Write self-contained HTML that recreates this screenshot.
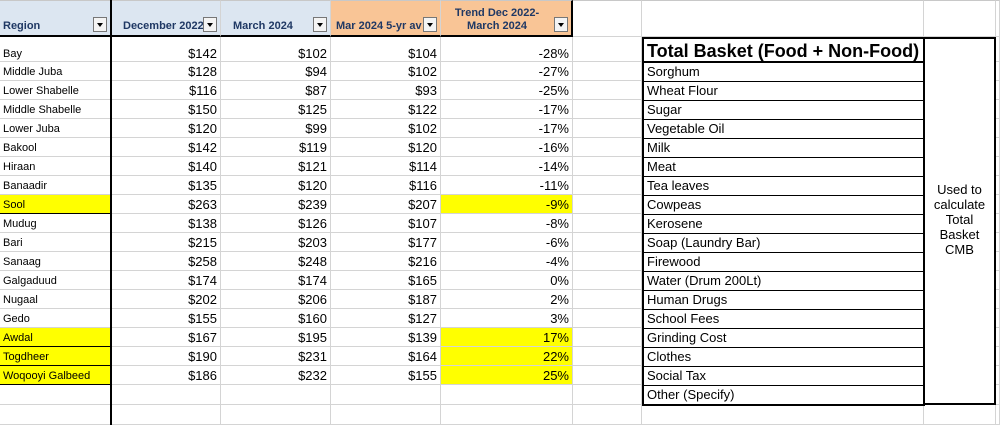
<!DOCTYPE html>
<html><head><meta charset="utf-8"><style>
body{margin:0;width:1000px;height:425px;overflow:hidden;background:#fff;font-family:"Liberation Sans",Arial,sans-serif;position:relative}
.c{position:absolute;box-sizing:border-box;border-right:1px solid #d4d4d4;border-bottom:1px solid #d4d4d4;white-space:nowrap;overflow:hidden}
.h{font-weight:bold;font-size:11px;color:#1f3864}
.dd{position:absolute;width:14px;height:15px;border:1px solid #777;background:#f4f4f4;box-sizing:border-box;bottom:3px;right:3px}
.dd:after{content:"";position:absolute;left:3px;top:5px;border-left:3.5px solid transparent;border-right:3.5px solid transparent;border-top:4px solid #000}
.rt{position:absolute;box-sizing:border-box;font-size:13px;padding-left:3px;border:1px solid #000;border-top:none;line-height:18px;white-space:nowrap}
</style></head><body>
<div id="grid"></div>
<script>
const regions=["Bay","Middle Juba","Lower Shabelle","Middle Shabelle","Lower Juba","Bakool","Hiraan","Banaadir","Sool","Mudug","Bari","Sanaag","Galgaduud","Nugaal","Gedo","Awdal","Togdheer","Woqooyi Galbeed"];
const dec22=[142,128,116,150,120,142,140,135,263,138,215,258,174,202,155,167,190,186];
const mar24=[102,94,87,125,99,119,121,120,239,126,203,248,174,206,160,195,231,232];
const avg5=[104,102,93,122,102,120,114,116,207,107,177,216,165,187,127,139,164,155];
const trend=[-28,-27,-25,-17,-17,-16,-14,-11,-9,-8,-6,-4,0,2,3,17,22,25];
const highlight=["Sool","Awdal","Togdheer","Woqooyi Galbeed"];
const items=["Sorghum","Wheat  Flour","Sugar","Vegetable Oil","Milk","Meat","Tea leaves","Cowpeas","Kerosene","Soap (Laundry Bar)","Firewood","Water (Drum 200Lt)","Human Drugs","School Fees","Grinding Cost","Clothes","Social Tax","Other (Specify)"];
const g=document.getElementById('grid');
const xs=[0,111,221,331,441,573,642,924,996,1000];
function rowY(i){return i===0?37:62+(i-1)*19;}
function rowH(i){return i===0?25:19;}
function cell(x,y,w,h,txt,name,st){const d=document.createElement('div');d.className='c';d.style.cssText+=`left:${x}px;top:${y}px;width:${w}px;height:${h}px;`+(st||'');if(txt!==null)d.textContent=txt;


g.appendChild(d);return d;}
const hdr=["Region","December 2022","March 2024","Mar 2024 5-yr av","Trend Dec 2022-\nMarch 2024"];
const hn=["region-header","dec-2022-header","mar-2024-header","five-yr-avg-header","trend-header"];
for(let j=0;j<5;j++){const bg=j<3?'#dce6f1':'#f9c596';
const d=cell(xs[j],0,xs[j+1]-xs[j],37,null,hn[j],`background:${bg};border-bottom:2px solid #000;border-top:1px solid #c8c8c8;`+(j==4?'border-right:2px solid #000;':''));
const s=document.createElement('div');s.className='h';
s.style.cssText=j==4?'position:absolute;left:0;right:18px;top:6px;text-align:center;line-height:13px;white-space:pre':`position:absolute;left:${j==0?3:j==3?5:12}px;bottom:3px`;
s.textContent=hdr[j];


d.appendChild(s);
const b=document.createElement('div');b.className='dd';


d.appendChild(b);}
for(let j=5;j<9;j++)cell(xs[j],0,xs[j+1]-xs[j],37,'','empty-cell','border-top:1px solid #c8c8c8;');
for(let i=0;i<19;i++){const y=rowY(i),h=rowH(i);
 for(let j=0;j<9;j++){ if(i<18 && j<5){
   const hl=highlight.includes(regions[i]);
   let txt,st='font-size:13px;text-align:right;padding-right:3px;padding-top:'+(i===0?8:0)+'px;line-height:'+(i===0?17:19)+'px;';
   if(j==0){txt=regions[i];st='font-size:11px;padding-left:3px;line-height:'+(i===0?34:21)+'px;'+(hl?'background:#ffff00;border-bottom:1px solid #000;':'');}
   else if(j==1)txt='$'+dec22[i];else if(j==2)txt='$'+mar24[i];else if(j==3)txt='$'+avg5[i];
   else{txt=trend[i]+'%';if(hl)st+='background:#ffff00;';}
   cell(xs[j],y,xs[j+1]-xs[j],h,txt,['region','dec-2022','mar-2024','five-yr-avg','trend'][j]+'-cell',st);
 } else if(j!=6 && j!=7) cell(xs[j],y,xs[j+1]-xs[j],i==18?20:h,'','empty-cell','');
 }}
cell(0,405,111,20,'','empty-cell','');for(let j=1;j<9;j++)cell(xs[j],405,xs[j+1]-xs[j],20,'','empty-cell','');
const v=document.createElement('div');v.style.cssText='position:absolute;left:110px;top:0;width:2px;height:425px;background:#000';


g.appendChild(v);
const t=document.createElement('div');t.className='rt';t.style.cssText='left:642px;top:37px;width:283px;height:26px;font-weight:bold;font-size:18px;line-height:25px;border:2px solid #000;background:#fff';t.textContent='Total Basket (Food + Non-Food)';


g.appendChild(t);
items.forEach((it,k)=>{const r=document.createElement('div');r.className='rt';
r.style.cssText=`left:642px;top:${63+k*19}px;width:283px;height:${k==17?20:19}px;background:#fff;border-left:2px solid #000;border-right:2px solid #000;`+(k==17?'border-bottom:2px solid #000;':'');
r.textContent=it;


g.appendChild(r);});
const u=document.createElement('div');u.style.cssText='position:absolute;left:923px;top:37px;width:73px;height:368px;box-sizing:border-box;border:2px solid #000;background:#fff;font-size:13px;text-align:center;line-height:15px;padding-top:143px';
u.innerHTML='Used to<br>calculate<br>Total<br>Basket<br>CMB';


g.appendChild(u);
</script>
</body></html>
